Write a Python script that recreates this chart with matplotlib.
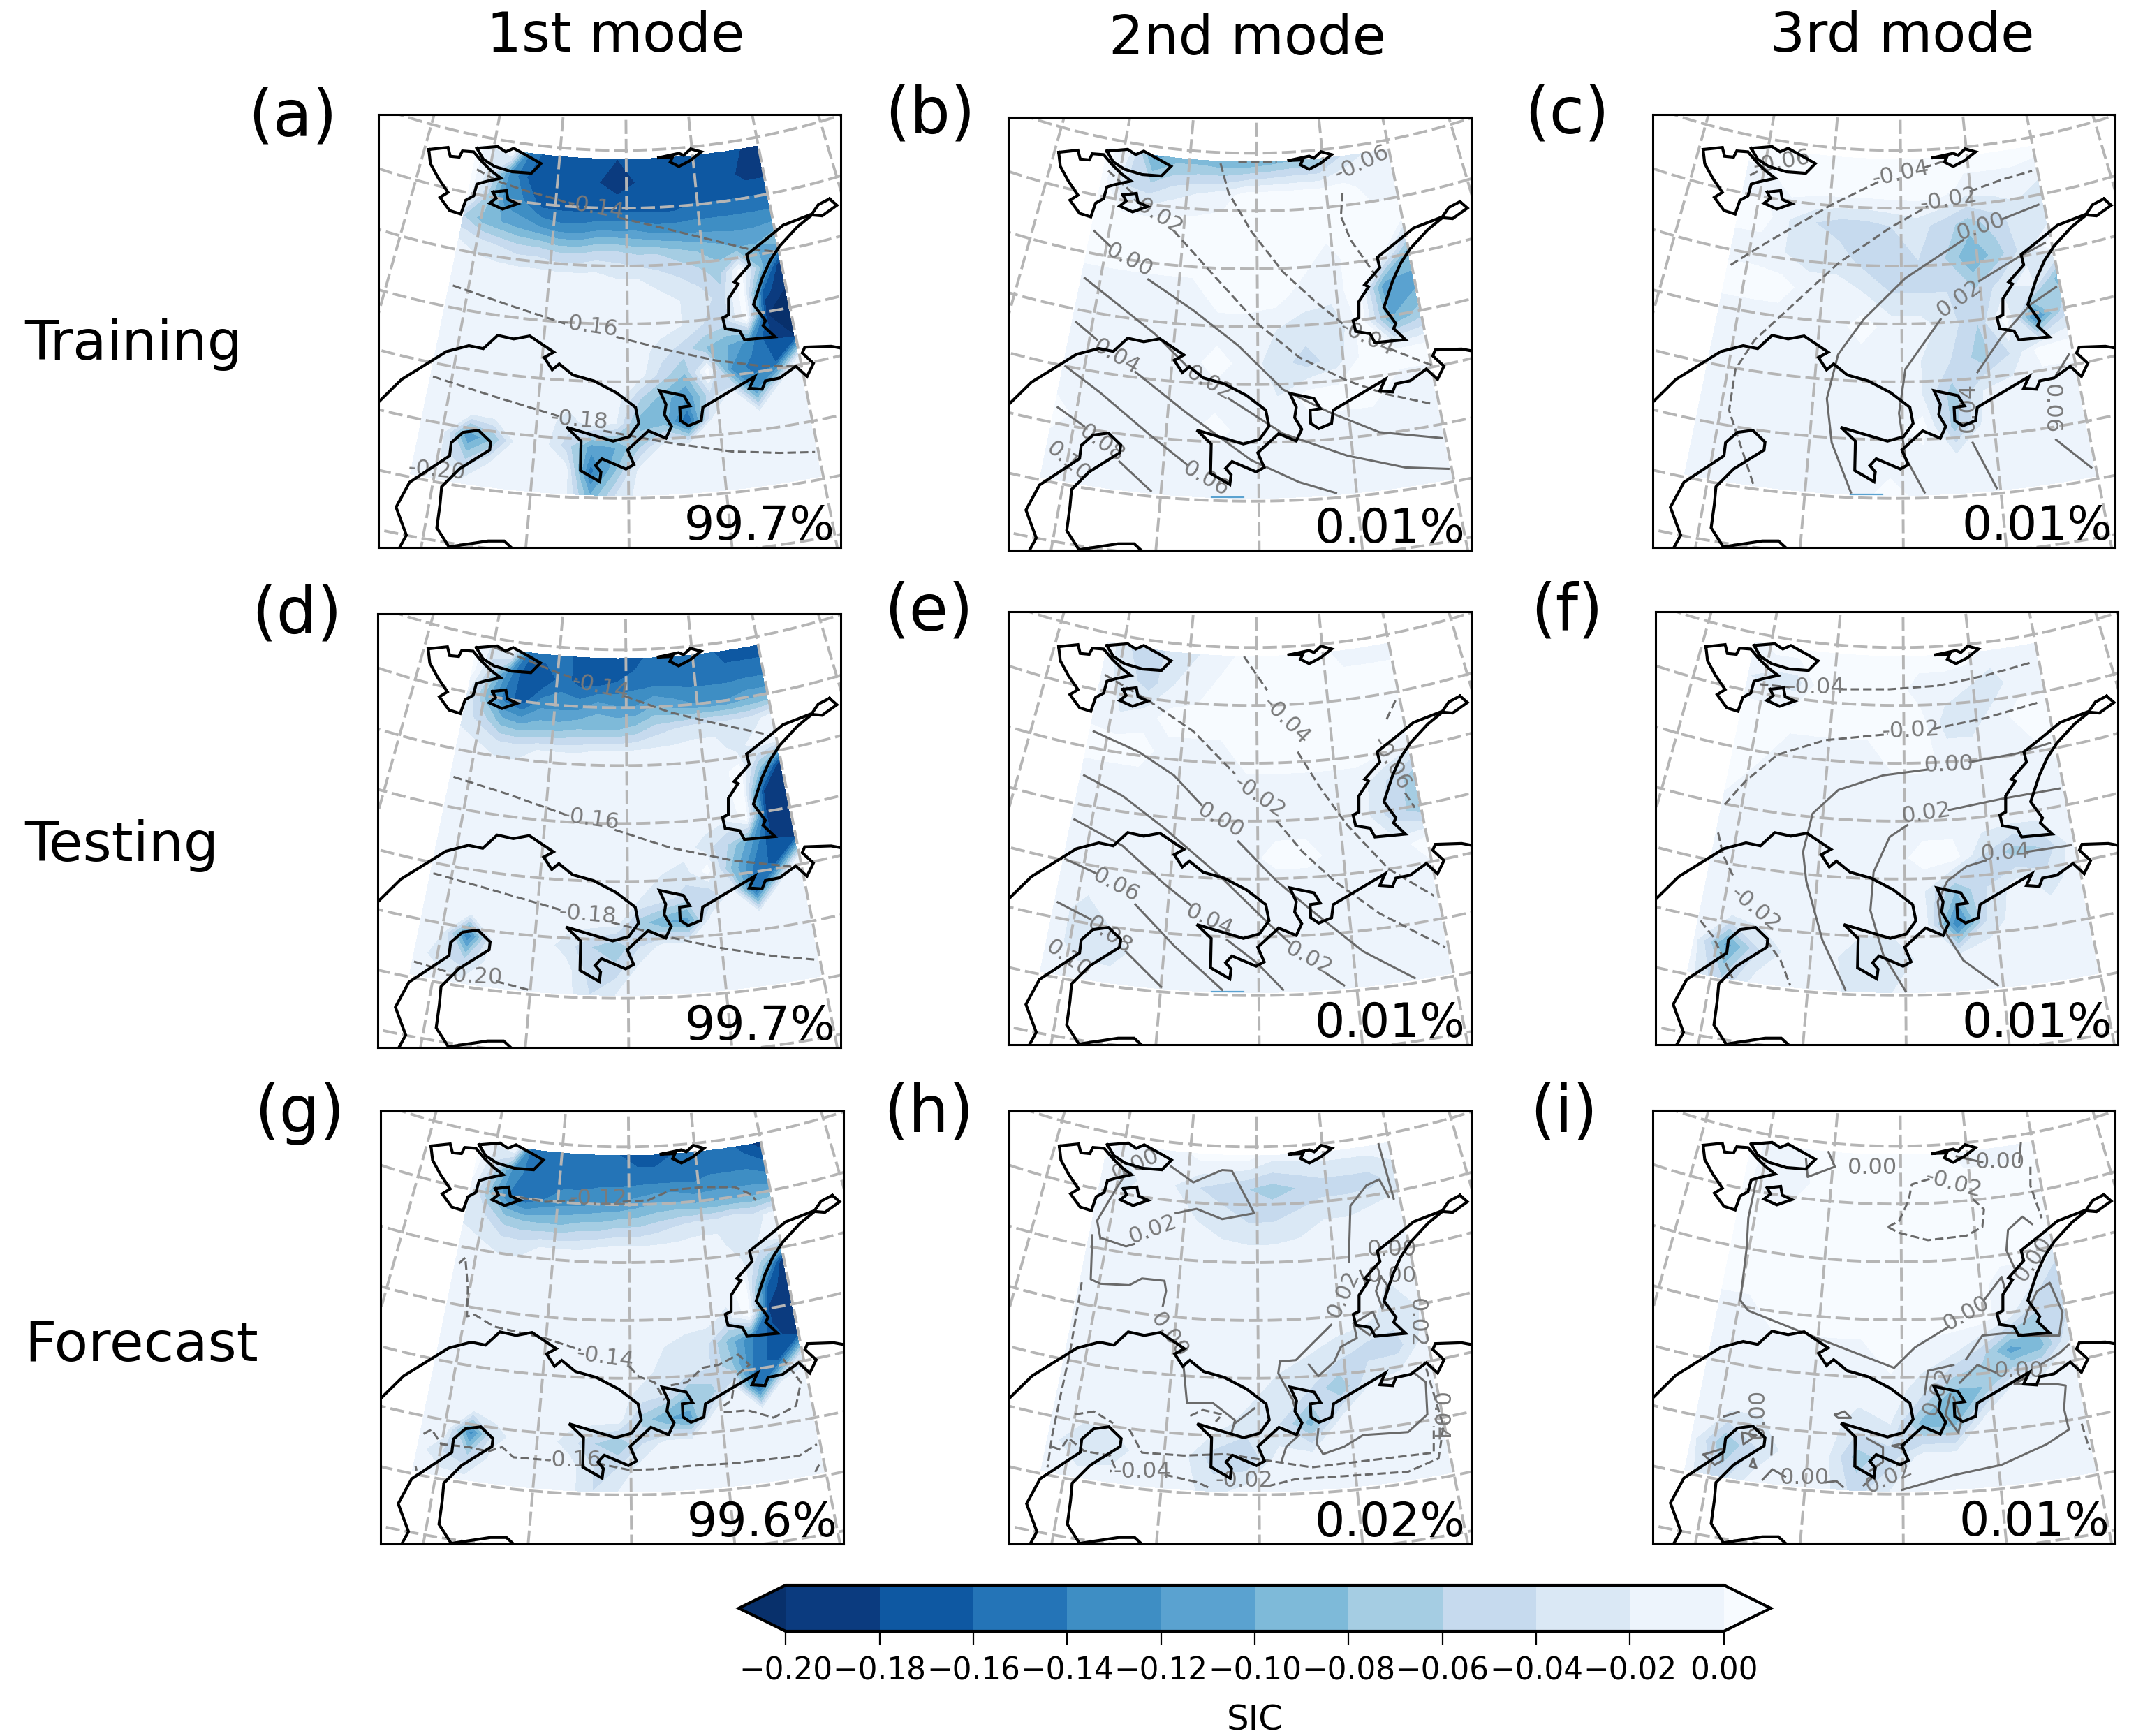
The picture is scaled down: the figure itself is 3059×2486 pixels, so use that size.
import numpy as np
import matplotlib
matplotlib.use('Agg')
import matplotlib.pyplot as plt
from matplotlib.colors import ListedColormap, BoundaryNorm
from matplotlib.cm import ScalarMappable

W, H = 3059, 2486

levels = [-0.20, -0.18, -0.16, -0.14, -0.12, -0.10, -0.08, -0.06, -0.04, -0.02, 0.0]
tick_labels = ['−0.20', '−0.18', '−0.16', '−0.14', '−0.12', '−0.10', '−0.08', '−0.06', '−0.04', '−0.02', '0.00']
bin_colors = ['#0b3b7f', '#0e58a2', '#2474b7', '#3e8ec4', '#5aa2d0', '#7ebad9', '#a5cde3', '#c6daee', '#dae8f5', '#edf4fc']

col_titles = ['1st mode', '2nd mode', '3rd mode']
row_titles = ['Training', 'Testing', 'Forecast']
panel_tags = ['(a)', '(b)', '(c)', '(d)', '(e)', '(f)', '(g)', '(h)', '(i)']
variance = ['99.7%', '0.01%', '0.01%', '99.7%', '0.01%', '0.01%', '99.6%', '0.02%', '0.01%']

# left, top, right, bottom of each panel in image pixels
boxes = [(542, 164, 1204, 784), (1444, 168, 2107, 788), (2367, 164, 3029, 784),
         (541, 879, 1204, 1500), (1444, 876, 2107, 1496), (2371, 876, 3033, 1496),
         (545, 1591, 1208, 2211), (1445, 1591, 2107, 2211), (2367, 1590, 3029, 2210)]
tag_xy = [(419, 169), (1332, 165), (2244, 165), (425, 881), (1330, 877), (2244, 877), (429, 1595), (1330, 1595), (2240, 1595)]
pct_right = [1472, 1472, 1482, 1474, 1472, 1474, 1472, 1472, 1474]

# map frame: conic sector, all map coordinates are in these units
cx, cy, squash = 805, -2237, 0.917
meridian_deg = [-21.0, -15.65, -10.3, -4.95, 0.41, 5.76, 11.11, 16.46, 21.81, 27.16]
parallel_r = [2195, 2392, 2589, 2786, 2983, 3180, 3377, 3577, 3774]
field_deg = (-11.6, 11.0)
field_r = (2422, 3567)

svalbard = [(205,152),(265,145),(272,175),(300,178),(310,157),(345,160),(372,195),(400,225),(430,250),(380,262),(355,270),(345,310),(320,325),(305,372),(270,360),(240,315),(265,298),(235,250),(210,200),(205,152)]
nordaust = [(355,148),(420,142),(445,160),(470,148),(520,178),(555,200),(525,233),(465,228),(410,210),(375,185),(355,148)]
edgeoya = [(405,297),(447,292),(452,322),(482,337),(435,355),(395,335),(415,318),(405,297)]
franz = [(922,180),(985,165),(1000,172),(1022,150),(1055,160),(1020,190),(985,210),(958,195),(965,178),(922,180)]
novaya = [(1455,320),(1478,342),(1432,378),(1400,375),(1355,415),(1300,480),(1270,530),(1245,590),(1218,680),(1255,735),(1248,752),(1285,790),(1190,800),(1175,770),(1130,762),(1122,725),(1140,715),(1140,660),(1170,610),(1158,603),(1205,545),(1197,510),(1260,455),(1310,410),(1400,372),(1420,340),(1455,320)]
mainland = [(1490,828),(1460,822),(1378,825),(1370,845),(1405,880),(1385,925),(1350,890),(1300,930),(1255,940),(1245,968),(1205,965),(1222,925),(1060,1030),(1055,1075),(1015,1093),(990,1075),(988,1030),(1020,1025),(1000,990),(925,973),(945,1020),(940,1055),(962,1095),(945,1135),(890,1110),(825,1175),(845,1225),(820,1240),(745,1205),(725,1228),(742,1250),(738,1283),(678,1245),(680,1145),(635,1098),(780,1145),(830,1130),(860,1085),(850,1030),(790,980),(720,940),(655,920),(612,882),(590,902),(565,860),(595,842),(520,787),(470,797),(420,785),(375,830),(330,820),(260,840),(120,935),(50,1010)]
finland = [(115,1505),(135,1465),(103,1370),(145,1285),(270,1195),(275,1150),(312,1115),(360,1108),(398,1148),(395,1175),(300,1240),(245,1300),(240,1360),(230,1440),(268,1505)]
south = [(268,1505),(390,1485),(440,1485),(462,1507)]
coasts = [svalbard, nordaust, edgeoya, franz, novaya, mainland, finland, south]

# SIC fields, in 0.01 units, rows run from the north edge to the south edge
sic_a = [
 [1,-2,1,-14,-17,-17,-17,-17,-18,-17,-17,-17,-16,-17,-17,-18,-18],
 [1,-3,-12,-16,-17,-17,-17,-18,-19,-18,-17,-17,-17,-17,-17,-19,-19],
 [1,-6,-13,-14,-17,-17,-17,-17,-17,-17,-17,-17,-16,-16,-16,-16,-16],
 [-6,-9,-10,-11,-12,-13,-13,-12,-12,-12,-13,-13,-13,-13,-13,-13,-13],
 [-2,-3,-4,-5,-5,-6,-6,-5,-5,-6,-6,-7,-8,-9,-10,-10,-8],
 [-1,-1,-1,-1,-1,-1,-1,-1,-2,-2,-3,-4,-5,-7,1,-8,-20],
 [-1,-1,-1,-1,-1,-1,-1,-1,-1,-1,-1,-2,-3,-5,1,-17,-20],
 [-1,-1,-1,-1,-1,-1,-1,-1,-1,-1,-1,-2,-4,-5,1,-20,-20],
 [-1,-1,-1,-1,-1,-1,-1,-1,-1,-1,-3,-5,-8,-10,-13,-18,-20],
 [-1,-1,-1,-1,-1,-1,-1,-1,-1,-1,-5,-8,1,-12,-15,-16,-1],
 [-1,-1,-1,-1,-1,-1,-1,-1,-1,-6,-9,-12,-5,-1,-12,-1,-1],
 [-1,-1,-1,-1,-1,-1,-3,-1,-2,-9,-9,-16,-2,-1,-1,-1,-1],
 [-1,-2,-12,-8,-1,-1,-5,-11,-10,-6,-1,-1,-1,-1,-1,-1,-1],
 [-1,-2,-6,-2,-1,-1,-1,-15,-8,-1,-1,-1,-1,-1,-1,-1,-1],
 [-1,-1,-1,-1,-1,-1,-1,-10,-4,-1,-1,-1,-1,-1,-1,-1,-1]]
sic_d = [
 [1,-3,1,-15,-15,-15,-17,-17,-17,-17,-15,-15,-15,-15,-17,-17,-17],
 [1,-5,-13,-18,-18,-15,-17,-17,-16,-15,-15,-15,-15,-15,-15,-15,-15],
 [-2,-9,-15,-17,-13,-13,-13,-11,-12,-12,-10,-11,-12,-12,-12,-11,-11],
 [-3,-5,-9,-10,-9,-9,-8,-8,-8,-7,-5,-4,-3,-3,-3,-3,-1],
 [-1,-2,-3,-3,-2,-2,-2,-1,-1,-1,-1,-1,-1,-1,-3,-1,-1],
 [-1,-1,-1,-1,-1,-1,-1,-1,-1,-1,-1,-1,-1,-1,1,-8,-20],
 [-1,-1,-1,-1,-1,-1,-1,-1,-1,-1,-1,-1,-1,-1,1,-18,-20],
 [-1,-1,-1,-1,-1,-1,-1,-1,-1,-1,-1,-1,-1,-2,1,-19,-20],
 [-1,-1,-1,-1,-1,-1,-1,-1,-1,-1,-1,-1,-3,-6,-11,-18,-20],
 [-1,-1,-1,-1,-1,-1,-1,-1,-1,-1,-2,-3,1,-8,-14,-17,-1],
 [-1,-1,-1,-1,-1,-1,-1,-1,-1,-2,-3,-5,-6,-1,-16,-1,-1],
 [-1,-1,-1,-1,-1,-1,-1,-1,-1,-7,-10,-11,-1,-1,-1,-1,-1],
 [-1,-2,-14,-2,-1,-1,-3,-6,-8,-4,-1,-1,-1,-1,-1,-1,-1],
 [-1,-3,-6,-1,-1,-1,-1,-5,-5,-1,-1,-1,-1,-1,-1,-1,-1],
 [-1,-1,-1,-1,-1,-1,-1,-4,-2,-1,-1,-1,-1,-1,-1,-1,-1]]
sic_g = [
 [1,-2,1,-15,-15,-15,-16,-16,-16,-17,-17,-16,-15,-15,-15,-17,-19],
 [1,-5,-12,-15,-15,-15,-15,-15,-15,-15,-15,-15,-15,-14,-14,-14,-15],
 [-1,-8,-14,-16,-14,-13,-13,-12,-12,-11,-10,-10,-11,-11,-11,-11,-11],
 [-3,-4,-7,-8,-8,-8,-7,-7,-6,-6,-5,-4,-3,-3,-2,-3,-1],
 [-1,-2,-3,-3,-2,-2,-2,-1,-1,-1,-1,-1,-1,-1,-4,-2,-1],
 [-1,-1,-1,-1,-1,-1,-1,-1,-1,-1,-1,-1,-1,-1,-1,-7,-20],
 [-1,-1,-1,-1,-1,-1,-1,-1,-1,-1,-1,-1,-1,-1,1,-16,-20],
 [-1,-1,-1,-1,-1,-1,-1,-1,-1,-1,-1,-1,-1,-3,1,-19,-20],
 [-1,-1,-1,-1,-1,-1,-1,-1,-1,-1,-2,-3,-4,-9,-14,-17,-20],
 [-1,-1,-1,-1,-1,-1,-1,-1,-1,-1,-3,-3,-4,-8,-15,-17,-3],
 [-1,-1,-1,-1,-1,-1,-1,-1,-1,-3,-4,-8,-7,-1,-16,-1,-1],
 [-1,-1,-1,-1,-1,-1,-1,-1,-1,-7,-10,-11,-1,-1,-1,-1,-1],
 [-1,-1,-13,-3,-1,-1,-3,-6,-8,-4,-1,-1,-1,-1,-1,-1,-1],
 [-1,-4,-6,-1,-1,-1,-1,-4,-4,-1,-1,-1,-1,-1,-1,-1,-1],
 [-1,-1,-1,-1,-1,-1,-1,-4,-2,-1,-1,-1,-1,-1,-1,-1,-1]]
sic_b = [
 [1,-2,-11,-9,-9,-10,-10,-9,-8,-8,-4,-2,-1],
 [1,-4,-5,-3,-2,-1,1,1,1,1,1,-1,-1],
 [1,1,1,1,1,1,1,1,1,1,1,1,1],
 [1,1,1,1,1,1,1,1,1,-1,1,1,-8],
 [-1,-1,-1,-1,-1,1,1,1,-1,-1,1,-12,-11],
 [-1,-1,-1,-1,-1,-1,-1,-2,-3,-4,1,-10,-7],
 [-1,-1,-1,-1,-1,1,-1,-3,-5,-3,1,1,1],
 [-1,-1,-1,-1,-1,-1,-1,-2,1,1,1,-1,-1],
 [1,-1,-1,-1,-1,1,-1,-1,-1,-1,-1,-1,-1],
 [-1,-1,-1,-1,-1,-1,-1,-1,-1,-1,-1,-1,-1],
 [-1,-1,-1,-1,-1,-1,-1,-1,-1,-1,-1,-1,-1]]
sic_c = [
 [1,1,1,1,1,1,1,1,1,1,1,1,1],
 [-1,-1,1,1,1,1,1,1,1,-1,-1,-1,-2],
 [1,1,-2,-4,-5,-5,-4,-3,-5,-7,-5,-3,-4],
 [-1,-1,-2,-3,-3,-5,-6,-4,-6,-10,-7,-3,1],
 [1,1,1,-1,-1,-2,-4,-4,-4,-6,-3,-1,-9],
 [-1,-1,-1,-1,-1,1,-1,-1,-3,-6,1,-13,-5],
 [-1,-1,-1,-1,-1,-1,-1,-2,-4,-7,-4,1,1],
 [-1,-1,-1,-1,-1,-1,-1,-2,-7,-2,-1,-1,-1],
 [-1,-1,-1,-1,-1,-1,-1,1,-7,-1,-1,-1,-1],
 [-1,-1,-1,-1,-1,-1,-1,-1,-1,-1,-1,-1,-1],
 [-1,-1,-1,-1,-1,-1,1,-1,-1,-1,-1,-1,-1]]
sic_e = [
 [-1,-4,-5,-3,-2,-1,1,1,1,1,-1,-1,-1],
 [-1,-3,-5,-2,-1,1,1,1,1,1,1,1,1],
 [-1,-2,-1,1,1,1,1,1,1,1,1,1,1],
 [1,1,1,-1,-1,-1,1,1,1,1,1,1,-1],
 [-1,-1,-1,-1,-1,-1,-1,-1,-1,-1,-1,-4,-7],
 [-1,-1,-1,-1,-1,-1,-1,-1,-1,-1,-1,-5,-7],
 [-1,-1,-1,-1,-1,-1,-1,1,1,-1,-1,-1,1],
 [-1,-1,-1,-1,-1,-1,-1,-2,-2,-1,-1,-1,-1],
 [-1,-3,-1,-1,-1,-1,-1,-1,-1,-1,-1,-1,-1],
 [-1,-3,-3,-1,-1,-1,-1,-1,-1,-1,-1,-1,-1],
 [-1,-1,-1,-1,-1,-1,-1,-1,-1,-1,-1,-1,-1]]
sic_f = [
 [-1,1,1,1,1,1,1,1,1,1,-1,-1,-1],
 [-2,-3,-3,1,1,1,1,-1,-1,-2,-3,-1,-1],
 [1,1,1,1,1,1,1,1,-3,-3,-1,1,1],
 [1,1,-1,-1,-1,-1,1,1,-1,-1,-1,-1,1],
 [1,-1,-1,-1,-1,-1,-1,-1,-1,-1,-1,-1,-1],
 [-1,-1,-1,-1,-1,-1,-1,-1,-1,-1,-1,-1,-1],
 [-1,-1,-1,-1,-1,-1,-1,1,1,-4,-7,-6,-1],
 [-1,-1,-1,-1,-1,-1,-1,-2,-8,-4,-1,-3,-1],
 [-1,-1,-1,-1,-1,-1,-1,-1,-14,-3,-1,-1,-1],
 [-1,-11,-4,-1,-1,-4,-4,-1,-1,-1,-1,-1,-1],
 [-1,-6,-1,-1,-1,-3,-2,-1,-1,-1,-1,-1,-1]]
sic_h = [
 [1,-1,-1,-1,1,1,1,-1,-1,-1,-1,-1,-1],
 [-1,-3,-1,-2,-4,-5,-6,-7,-6,-5,-5,-5,-3],
 [-1,-1,-1,-1,-2,-3,-4,-4,-3,-2,-2,-1,-1],
 [-1,-1,-1,-1,-1,-1,-1,-1,-1,-1,-1,-2,-1],
 [-1,-1,-1,-1,-1,-1,-1,-1,-1,-1,-1,-2,-1],
 [-1,-1,-1,-1,-1,-1,-1,-1,-1,-1,-1,-3,-2],
 [-1,-1,-1,-1,-1,-1,-1,-1,-2,-3,-5,-5,-1],
 [-1,-1,-1,-1,-1,-1,-1,-3,-4,-8,-2,-1,-1],
 [-1,-1,-1,-1,-1,-1,-3,-4,-9,-1,-1,-1,-1],
 [-1,-4,-3,-1,-1,-5,-6,-1,-1,-1,-1,-1,-1],
 [-1,-1,-1,-1,-1,-3,-1,-1,-1,-1,-1,-1,-1]]
sic_i = [
 [1,-1,-1,1,1,1,1,1,1,-1,-1,-1,1],
 [1,-2,-2,1,1,1,1,1,1,1,1,1,1],
 [1,1,1,1,1,1,1,1,1,1,1,1,1],
 [1,1,1,1,1,1,1,1,1,1,1,1,-1],
 [1,1,1,1,1,1,1,1,1,1,-1,-1,-6],
 [-1,-1,1,1,1,1,1,1,1,1,-1,-6,-5],
 [-1,-1,-1,-1,-1,-1,1,-1,-2,-5,-11,-9,-2],
 [-1,-1,-1,-1,-1,-1,-1,-3,-8,-8,-2,-1,-1],
 [-1,-2,-2,-1,-1,-3,-2,-9,-9,-1,-1,-1,-1],
 [-1,-8,-4,-1,-1,-7,-5,-1,-1,-1,-1,-1,-1],
 [-1,-5,-1,-1,-1,-5,-2,-1,-1,-1,-1,-1,-1]]
fields = [sic_a, sic_b, sic_c, sic_d, sic_e, sic_f, sic_g, sic_h, sic_i]

# EOF isolines per panel: (style, points), labels: (text, x, y, rotation)
lines_a = [('--', [(355,220),(420,260),(500,290),(600,320),(655,340)]), ('--', [(800,385),(900,410),(1050,450),(1200,490),(1290,500)]),
 ('--', [(280,615),(450,680),(630,745)]), ('--', [(790,790),(950,835),(1100,870),(1250,890),(1350,890)]),
 ('--', [(218,925),(400,990),(610,1060)]), ('--', [(750,1110),(950,1150),(1150,1180),(1300,1185),(1410,1182)])]
labels_a = [('-0.14',725,350,-10), ('-0.16',705,755,-8), ('-0.18',675,1075,-5), ('-0.20',230,1245,-5)]

lines_b = [('--', [(355,215),(430,290)]), ('--', [(560,420),(650,530),(820,735),(950,850),(1100,930),(1220,975),(1370,1010)]),
 ('--', [(705,190),(730,290),(800,420),(900,560),(1000,660),(1085,735)]), ('--', [(1230,820),(1370,880)]),
 ('--', [(1085,290),(1080,370),(1110,450),(1200,590)]), ('--', [(760,183),(880,183)]),
 ('-', [(312,420),(360,470)]), ('-', [(480,585),(620,690),(760,810),(900,960),(1050,1040),(1200,1105),(1395,1125)]),
 ('-', [(282,580),(500,770),(600,880)]), ('-', [(730,990),(900,1110),(1100,1185),(1280,1225),(1415,1230)]),
 ('-', [(255,730),(320,790)]), ('-', [(440,900),(600,1040),(800,1200),(950,1275),(1065,1312)]),
 ('-', [(222,880),(330,970),(480,1110),(600,1215)]), ('-', [(198,1020),(280,1085)]), ('-', [(390,1205),(488,1305)])]
labels_b = [('-0.02',505,365,-32), ('-0.04',1160,785,-25), ('-0.06',1145,190,25), ('0.00',420,520,-28), ('0.02',670,940,-30),
 ('0.04',380,850,-30), ('0.06',660,1265,-30), ('0.08',335,1145,-35), ('0.10',230,1205,-40)]

lines_c = [('--', [(365,240),(410,215)]), ('--', [(305,545),(400,480),(620,340),(770,260)]), ('--', [(905,215),(975,190)]),
 ('--', [(375,1290),(300,1040),(320,900),(380,800),(500,680),(640,540),(800,420),(920,345)]), ('--', [(1050,295),(1150,255),(1245,225)]),
 ('-', [(680,1320),(620,1150),(605,1000),(640,850),(720,730),(850,590),(1030,460)]), ('-', [(1150,390),(1265,340)]),
 ('-', [(910,1320),(850,1200),(830,1050),(850,900),(960,730)]), ('-', [(1080,600),(1200,520),(1285,470)]),
 ('-', [(1135,1305),(1060,1150)]), ('-', [(1075,910),(1150,790),(1240,680),(1320,620)]),
 ('-', [(1320,1140),(1430,1235)]), ('-', [(1320,920),(1360,850)])]
labels_c = [('-0.06',465,195,10), ('-0.04',835,235,12), ('-0.02',985,325,10), ('0.00',1085,415,18), ('0.02',1018,660,35),
 ('0.04',1045,1030,90), ('0.06',1305,1035,270)]

lines_d = [('--', [(405,150),(500,190),(600,235),(665,260)]), ('--', [(810,315),(950,370),(1100,410),(1250,445)]),
 ('--', [(278,590),(450,650),(630,720)]), ('--', [(780,770),(950,830),(1150,875),(1330,895)]),
 ('--', [(215,918),(400,975),(620,1045)]), ('--', [(770,1085),(950,1135),(1100,1170),(1280,1200),(1410,1212)]),
 ('--', [(155,1218),(265,1255)]), ('--', [(410,1285),(515,1315)])]
labels_d = [('-0.14',735,285,-12), ('-0.16',705,735,-8), ('-0.18',695,1060,-5), ('-0.20',340,1270,-3)]

lines_e = [('--', [(345,248),(480,335),(620,440),(750,585)]), ('--', [(880,745),(960,850),(1060,950),(1200,1060),(1405,1175)]),
 ('--', [(778,185),(850,300)]), ('--', [(945,510),(1020,640),(1100,760),(1230,910),(1370,1000)]),
 ('--', [(1250,335),(1222,400)]), ('--', [(1280,650),(1310,700)]),
 ('-', [(310,440),(450,510),(560,590),(645,690)]), ('-', [(760,815),(880,950),(1000,1060),(1150,1190),(1310,1280)]),
 ('-', [(280,590),(400,660),(530,770),(700,930),(860,1100),(920,1160)]), ('-', [(1035,1265),(1090,1305)]),
 ('-', [(250,740),(400,830),(530,960),(610,1030)]), ('-', [(725,1150),(820,1230),(900,1320)]),
 ('-', [(222,875),(320,925)]), ('-', [(440,1030),(560,1170),(710,1320)]),
 ('-', [(198,1022),(300,1080)]), ('-', [(410,1190),(520,1310)])]
labels_e = [('-0.02',825,665,-35), ('-0.04',910,405,-45), ('-0.06',1235,550,-60), ('0.00',705,745,-30), ('0.02',980,1215,-28),
 ('0.04',670,1085,-25), ('0.06',380,965,-28), ('0.08',360,1135,-35), ('0.10',230,1215,-35)]

lines_f = [('--', [(395,280),(490,290)]), ('--', [(640,297),(800,297),(950,285),(1100,250),(1245,205)]),
 ('--', [(285,690),(350,610),(450,520),(600,470),(795,450)]), ('--', [(935,432),(1100,395),(1270,340)]),
 ('--', [(265,785),(280,860),(315,940)]), ('--', [(415,1150),(460,1220),(490,1305)]), ('--', [(210,1085),(250,1140),(310,1280)]),
 ('-', [(662,1320),(590,1150),(540,950),(530,850),(560,720),(640,640),(780,590),(920,570)]), ('-', [(1050,545),(1200,515),(1300,480)]),
 ('-', [(850,1325),(780,1200),(740,1050),(750,920),(800,800),(855,760)]), ('-', [(985,708),(1150,670),(1330,635)]),
 ('-', [(1138,1305),(1030,1220),(960,1100),(950,1020),(980,950),(1040,900),(1100,880)]), ('-', [(1230,850),(1365,828)])]
labels_f = [('-0.04',570,290,0), ('-0.02',865,437,3), ('-0.02',380,1045,-40), ('0.00',985,555,2), ('0.02',915,720,8), ('0.04',1162,855,3)]

lines_g = [('--', [(480,330),(560,345),(650,340)]), ('--', [(800,345),(880,340),(950,305),(1050,295),(1150,295),(1200,320),(1215,340)]),
 ('--', [(290,555),(310,535),(318,640),(315,735),(340,730),(400,770),(560,810),(670,850)]), ('--', [(820,905),(850,940),(900,960),(930,1020)]),
 ('--', [(950,970),(1000,960),(1050,910),(1100,900),(1160,865),(1195,900),(1150,940),(1140,1020),(1115,1040)]),
 ('--', [(1115,1062),(1190,1055),(1270,1080),(1340,1040),(1355,960),(1300,880)]),
 ('--', [(180,1135),(205,1120),(235,1170),(320,1180),(380,1195),(425,1180),(460,1215),(575,1225)]),
 ('--', [(720,1235),(820,1258),(910,1255),(1000,1245),(1150,1235),(1350,1210),(1405,1170)]),
 ('--', [(155,1245),(158,1260)]), ('--', [(1400,1265),(1412,1240)])]
labels_g = [('-0.12',725,335,0), ('-0.14',745,875,-8), ('-0.16',645,1225,0)]

lines_h = [('-', [(315,450),(310,600),(340,615),(430,620),(470,597),(540,605),(545,640),(535,690)]),
 ('-', [(345,460),(420,488),(445,480)]), ('-', [(575,375),(640,360),(720,395),(820,375),(750,230),(720,228),(630,270),(560,215)]),
 ('-', [(340,460),(330,400),(390,290),(420,240)]),
 ('-', [(1115,540),(1120,350),(1170,280),(1210,260),(1240,320)]), ('-', [(1208,140),(1255,325)]),
 ('-', [(900,880),(950,875),(1000,820),(1060,755)]), ('-', [(1150,570),(1170,620)]),
 ('-', [(900,880),(895,920),(940,1010),(945,1030)]), ('-', [(990,890),(1020,930),(1070,880),(1090,830),(1140,800),(1130,750),(1190,710),(1210,760),(1180,790),(1130,750)]),
 ('-', [(1215,590),(1235,620),(1220,700),(1200,640),(1215,590)]),
 ('-', [(1020,1110),(1015,1160),(1035,1195),(1100,1170),(1160,1130),(1300,1120),(1360,1060),(1355,950),(1320,920),(1220,945)]),
 ('-', [(600,900),(610,1020),(690,1020),(760,1080),(750,1120)]), ('-', [(820,1040),(760,1090)]), ('-', [(905,1220),(920,1170),(960,1130)]),
 ('--', [(282,610),(245,850),(215,1000),(190,1130),(175,1240)]),
 ('--', [(190,1170),(215,1180),(240,1140),(290,1185),(370,1200),(385,1240),(370,1255)]),
 ('--', [(540,1265),(640,1290),(680,1310)]),
 ('--', [(430,1110),(470,1190),(600,1200),(730,1195),(1000,1240),(1380,1190),(1380,1100)]),
 ('--', [(860,1305),(950,1280),(1100,1270),(1300,1255),(1395,1210),(1410,1100),(1350,880)]),
 ('--', [(620,1065),(660,1045),(720,1060),(700,1085)]), ('--', [(260,1060),(320,1050),(380,1090)])]
labels_h = [('0.00',450,210,25), ('0.02',505,430,20), ('0.00',555,790,-55), ('0.02',1100,650,65), ('0.02',1325,750,-90),
 ('0.04',1395,1070,-90), ('-0.04',470,1255,0), ('-0.02',790,1285,0), ('0.00',1250,500,0), ('0.00',1250,590,0)]

lines_i = [('-', [(385,270),(360,400),(355,500),(335,680),(360,715),(520,785),(815,910),(880,840),(985,770)]), ('-', [(1095,680),(1150,600),(1160,640)]),
 ('-', [(1245,420),(1215,395),(1170,440),(1165,510),(1190,570)]),
 ('-', [(840,1325),(1000,1275),(1150,1240),(1290,1170),(1360,1120),(1345,1050),(1350,970),(1320,965),(1190,965),(1230,940)]),
 ('-', [(910,1000),(920,920),(1000,900)]), ('-', [(1020,960),(1075,900),(1130,925)]), ('-', [(1270,900),(1330,860),(1360,830)]),
 ('-', [(1040,880),(1090,800),(1180,790),(1230,800),(1330,800),(1340,720),(1300,620),(1260,650),(1230,720),(1220,760)]),
 ('-', [(1010,190),(1090,210)]), ('-', [(1210,145),(1205,210)]), ('-', [(610,175),(630,225),(545,260),(540,200)]),
 ('--', [(795,430),(830,410),(860,340),(870,285),(930,265)]), ('--', [(1060,335),(1095,370),(1090,430),(1040,460),(920,475),(830,450),(795,430)]),
 ('--', [(1240,225),(1240,290),(1275,400)]), ('--', [(1400,1100),(1425,1190)]),
 ('-', [(405,1290),(435,1255),(475,1280)]), ('-', [(600,1300),(635,1295),(655,1315)]), ('-', [(720,1310),(750,1280)]),
 ('-', [(285,1075),(330,1060)]), ('-', [(435,1145),(432,1205)]), ('-', [(375,1220),(385,1250),(365,1245),(375,1220)]),
 ('-', [(220,1205),(280,1185),(280,1225),(255,1240),(220,1205)]), ('-', [(340,1130),(345,1170),(385,1140),(340,1130)]),
 ('-', [(630,1070),(660,1058),(680,1080),(640,1080),(630,1070)]), ('-', [(690,1140),(695,1250)]),
 ('-', [(730,1150),(780,1180),(780,1230),(740,1260)]), ('-', [(810,1175),(850,1165),(840,1185),(810,1175)]),
 ('-', [(990,1000),(975,1070),(1015,1130),(1025,1090),(1000,1010)])]
labels_i = [('0.00',748,228,0), ('0.00',1145,210,0), ('-0.02',1000,285,-15), ('0.00',1040,725,30), ('0.00',1250,540,55), ('0.00',1205,920,0),
 ('0.02',950,990,70), ('0.00',535,1285,0), ('0.02',800,1285,25), ('0.00',390,1065,90)]

all_lines = [lines_a, lines_b, lines_c, lines_d, lines_e, lines_f, lines_g, lines_h, lines_i]
all_labels = [labels_a, labels_b, labels_c, labels_d, labels_e, labels_f, labels_g, labels_h, labels_i]
# zoom frame of each panel against panel a
frame_shift = [(0,0), (4,0), (-14,0), (6,-3), (4,0), (-22,0), (2,-3), (-7,6), (-14,0)]

blue_edge = [False, True, True, False, True, False, False, False, False]

cmap = ListedColormap(bin_colors)
cmap.set_under('#08306b')
cmap.set_over('#f7fbff')
norm = BoundaryNorm(levels, 10)


def to_map(deg, r):
    t = np.radians(deg)
    return cx + squash * r * np.sin(t), cy + r * np.cos(t)


fig = plt.figure(figsize=(W / 100, H / 100), dpi=100)

for n in range(9):
    l, t, r, b = boxes[n]
    ax = fig.add_axes([l / W, 1 - b / H, (r - l) / W, (b - t) / H])
    z = np.array(fields[n]) * 0.01
    deg = np.linspace(field_deg[0], field_deg[1], z.shape[1])
    rad = np.linspace(field_r[0], field_r[1], z.shape[0])
    dd, rr = np.meshgrid(deg, rad)
    X, Y = to_map(dd, rr)
    ax.contourf(X, Y, z, levels=levels, cmap=cmap, norm=norm, extend='both', zorder=1)

    for d in meridian_deg:
        x, y = to_map(d, np.array([1900.0, 4300.0]))
        ax.plot(x, y, color='#b5b5b5', lw=2.8, ls=(0, (5.2, 1.8)), zorder=2)
    for q in parallel_r:
        x, y = to_map(np.linspace(-30, 30, 121), q)
        ax.plot(x, y, color='#b5b5b5', lw=2.8, ls=(0, (5.2, 1.8)), zorder=2)

    sx, sy = frame_shift[n]
    for style, pts in all_lines[n]:
        p = np.array(pts, dtype=float)
        ls = (0, (4, 1.8)) if style == '--' else '-'
        ax.plot(p[:, 0] + sx, p[:, 1] + sy, color='#6a6a6a', lw=2.2, ls=ls, zorder=3)
    for txt, x, y, rot in all_labels[n]:
        ax.text(x + sx, y + sy, txt, color='#7a7a7a', fontsize=23, rotation=rot, ha='center', va='center', zorder=3)

    if blue_edge[n]:
        ax.plot([678 + sx, 778 + sx], [1327, 1327], color='#5aa2d0', lw=1.6, zorder=2)

    for c in coasts:
        p = np.array(c)
        ax.plot(p[:, 0], p[:, 1], color='black', lw=3.0, solid_joinstyle='miter', zorder=4)

    ax.text(pct_right[n], 1435, variance[n], fontsize=49, ha='right', va='center', zorder=5)
    ax.set_xlim(48, 1490)
    ax.set_ylim(1507, 33)
    ax.set_xticks([])
    ax.set_yticks([])
    for s in ax.spines.values():
        s.set_linewidth(2.2)
    fig.text(tag_xy[n][0] / W, 1 - tag_xy[n][1] / H, panel_tags[n], fontsize=66, ha='center', va='center')

for txt, x, y in zip(col_titles, [882, 1787, 2724], [52, 56, 52]):
    fig.text(x / W, 1 - y / H, txt, fontsize=56.5, ha='center', va='center')
for txt, y in zip(row_titles, [493, 1211, 1927]):
    fig.text(35 / W, 1 - y / H, txt, fontsize=57, ha='left', va='center')

cax = fig.add_axes([1058 / W, 1 - 2336 / H, 1478 / W, 66 / H])
cb = fig.colorbar(ScalarMappable(norm=norm, cmap=cmap), cax=cax, orientation='horizontal', extend='both', ticks=levels)
cb.ax.set_xticklabels(tick_labels, fontsize=31.5)
cb.ax.tick_params(length=13.5, width=1.6, pad=12)
cb.outline.set_linewidth(3.0)
fig.text(1797 / W, 1 - 2464 / H, 'SIC', fontsize=36, ha='center', va='center')

fig.savefig('out.png', dpi=100)
